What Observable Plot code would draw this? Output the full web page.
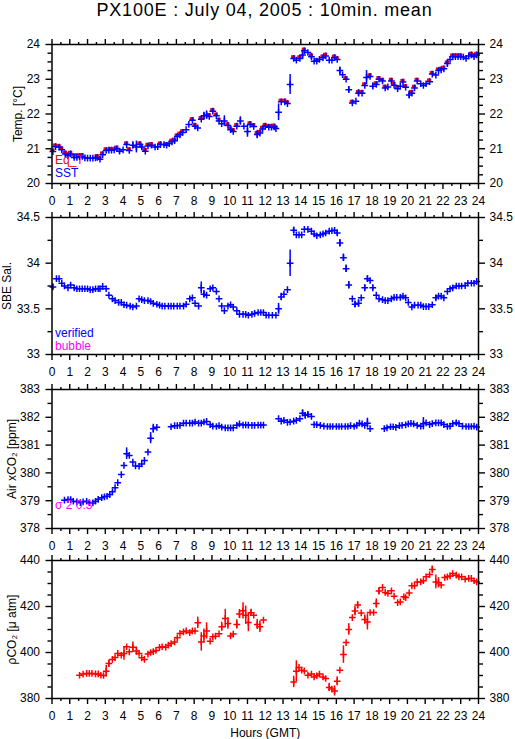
<!DOCTYPE html>
<html><head><meta charset="utf-8">
<script src="https://cdn.jsdelivr.net/npm/d3@7"></script>
<script src="https://cdn.jsdelivr.net/npm/@observablehq/plot@0.6"></script>
<style>
body{margin:0;background:#fff;}
#root{position:relative;width:515px;height:739px;overflow:hidden;font-family:"Liberation Sans",Arial,Helvetica,sans-serif;}
#title{position:absolute;left:0;width:529px;top:-1px;text-align:center;font-size:18px;letter-spacing:0.8px;line-height:22px;color:#000;}
</style></head><body>
<div id="root"><div id="title">PX100E : July 04, 2005 : 10min. mean</div></div>
<script>
// ---------- data ----------
const hourTicks = d3.range(0, 25, 1);
const halfHourTicks = d3.range(0.5, 24, 1);

// Panel 1: temperature
const sstHours = [0.05,0.2,0.4,0.55,0.75,0.9,1.05,1.25,1.4,1.55,1.7,1.85,2.0,2.15,2.3,2.45,2.55,2.7,2.85,3.05,3.2,3.35,3.5,3.65,3.8,4.0,4.2,4.35,4.55,4.75,4.95,5.05,5.25,5.4,5.6,5.8,5.95,6.1,6.3,6.45,6.6,6.75,6.9,7.05,7.2,7.35,7.55,7.7,7.9,8.05,8.2,8.4,8.55,8.7,8.85,9.05,9.25,9.4,9.55,9.7,9.9,10.05,10.2,10.4,10.6,10.8,11.0,11.15,11.35,11.55,11.7,11.85,12.0,12.2,12.35,12.5,12.6,12.75,12.9,13.1,13.25,13.4,13.6,13.75,13.95,14.1,14.2,14.4,14.6,14.75,14.9,15.05,15.25,15.4,15.6,15.75,15.9,16.05,16.2,16.35,16.55,16.7,16.9,17.1,17.25,17.45,17.6,17.7,17.9,18.05,18.25,18.4,18.6,18.75,18.9,19.1,19.25,19.45,19.6,19.75,19.9,20.1,20.25,20.4,20.55,20.75,20.9,21.05,21.25,21.4,21.6,21.75,21.9,22.05,22.25,22.4,22.55,22.7,22.85,23.0,23.15,23.3,23.45,23.6,23.75,23.9];
const sstValues = [20.92,21.06,21.05,20.97,20.85,20.80,20.85,20.75,20.75,20.77,20.78,20.74,20.73,20.73,20.73,20.74,20.75,20.70,20.83,20.95,20.96,20.96,20.97,21.00,20.93,20.97,21.12,20.95,21.10,21.05,21.12,21.05,20.93,21.08,21.10,21.05,21.06,21.12,21.12,21.10,21.15,21.20,21.23,21.35,21.40,21.47,21.55,21.70,21.82,21.65,21.60,21.85,21.95,21.97,21.93,22.08,21.95,21.80,21.72,21.80,21.67,21.55,21.50,21.65,21.80,21.65,21.50,21.70,21.64,21.41,21.45,21.57,21.65,21.62,21.62,21.63,21.58,22.05,22.35,22.35,22.30,22.85,23.60,23.55,23.60,23.70,23.82,23.77,23.65,23.52,23.52,23.57,23.62,23.67,23.55,23.55,23.62,23.57,23.25,23.13,23.00,22.70,22.32,22.37,22.60,22.60,22.82,23.05,23.08,22.80,22.85,23.00,22.95,22.75,22.78,22.95,22.83,22.73,22.80,22.92,22.77,22.55,22.60,22.75,22.95,22.87,22.82,22.87,22.93,23.15,23.12,23.25,23.27,23.30,23.45,23.57,23.65,23.65,23.65,23.65,23.64,23.60,23.67,23.70,23.65,23.70];
const sstErrHours = [1.25,3.8,4.55,4.75,5.05,8.55,8.7,9.7,10.6,11.0,11.55,12.75,13.4,13.6,14.1,14.6,16.2,16.7,17.25,17.7,18.05,20.1,22.25];
const sstErrHalf  = [0.06,0.08,0.10,0.17,0.08,0.10,0.12,0.15,0.12,0.17,0.12,0.24,0.29,0.07,0.10,0.08,0.10,0.09,0.10,0.20,0.09,0.11,0.08];
const eqtHours = [0.05,0.2,0.4,0.55,0.75,0.9,1.05,1.25,1.4,1.55,1.7,2.55,2.7,2.85,3.05,3.35,3.65,4.2,4.35,4.95,5.25,5.4,5.6,6.1,6.45,6.75,6.9,7.05,7.2,7.35,7.9,8.05,8.4,8.85,9.05,9.25,9.4,9.9,10.05,10.2,10.4,11.15,11.35,11.55,11.7,11.85,12.0,12.2,12.35,12.5,12.6,12.9,13.1,13.25,13.6,13.95,14.2,14.6,14.9,15.25,15.4,15.9,16.05,16.55,16.9,17.25,17.45,17.6,17.9,18.25,18.4,18.6,18.75,19.1,19.25,19.45,19.75,19.9,20.25,20.4,20.55,21.25,21.4,21.75,21.9,22.05,22.25,22.55,22.7,22.85,23.0,23.6,23.75,23.9];
const eqtValues = [20.93,21.08,21.06,20.99,20.87,20.82,20.87,20.79,20.80,20.80,20.80,20.77,20.72,20.85,20.97,20.98,21.02,21.14,20.97,21.14,20.95,21.10,21.12,21.14,21.12,21.22,21.25,21.37,21.42,21.49,21.84,21.67,21.87,21.95,22.10,21.97,21.82,21.69,21.57,21.52,21.67,21.72,21.67,21.44,21.47,21.59,21.67,21.64,21.64,21.65,21.60,22.37,22.37,22.32,23.62,23.62,23.84,23.67,23.54,23.64,23.69,23.64,23.59,23.02,22.34,22.62,22.62,22.84,23.10,22.87,23.02,22.97,22.77,22.97,22.85,22.75,22.94,22.79,22.62,22.77,22.97,22.95,23.17,23.27,23.29,23.32,23.47,23.67,23.67,23.67,23.67,23.72,23.67,23.72];

// Panel 2: SBE salinity
const salHours = [0.05,0.25,0.4,0.55,0.7,0.9,1.05,1.25,1.4,1.55,1.7,1.85,2.0,2.15,2.3,2.45,2.6,2.7,2.85,3.05,3.2,3.4,3.55,3.75,3.9,4.05,4.2,4.4,4.55,4.75,4.9,5.05,5.2,5.4,5.55,5.7,5.9,6.05,6.2,6.35,6.55,6.7,6.85,7.05,7.2,7.4,7.55,7.75,7.9,8.05,8.25,8.4,8.55,8.7,8.9,9.05,9.25,9.4,9.55,9.7,9.9,10.05,10.2,10.4,10.55,10.75,10.9,11.05,11.25,11.4,11.6,11.75,11.9,12.05,12.2,12.4,12.6,12.75,12.9,13.05,13.25,13.4,13.6,13.75,13.9,14.05,14.2,14.4,14.6,14.75,14.9,15.1,15.25,15.4,15.6,15.75,15.9,16.05,16.2,16.4,16.55,16.7,16.9,17.05,17.25,17.4,17.6,17.75,17.9,18.05,18.25,18.4,18.6,18.75,18.9,19.1,19.25,19.4,19.6,19.75,19.9,20.05,20.25,20.4,20.6,20.75,20.9,21.05,21.2,21.4,21.6,21.75,21.9,22.05,22.25,22.4,22.55,22.75,22.9,23.05,23.25,23.4,23.6,23.75,23.9];
const salValues = [33.74,33.83,33.83,33.78,33.75,33.73,33.76,33.73,33.72,33.72,33.72,33.72,33.72,33.71,33.71,33.72,33.72,33.72,33.745,33.72,33.65,33.61,33.59,33.57,33.57,33.545,33.54,33.53,33.52,33.53,33.61,33.60,33.59,33.59,33.58,33.56,33.55,33.54,33.53,33.53,33.53,33.53,33.53,33.53,33.53,33.53,33.55,33.61,33.62,33.56,33.53,33.73,33.66,33.65,33.72,33.73,33.69,33.61,33.53,33.48,33.53,33.545,33.52,33.48,33.44,33.44,33.44,33.43,33.44,33.45,33.46,33.46,33.46,33.43,33.43,33.43,33.43,33.50,33.63,33.66,33.71,34.00,34.36,34.31,34.31,34.31,34.37,34.37,34.35,34.32,34.30,34.31,34.32,34.33,34.35,34.355,34.36,34.33,34.22,34.06,33.94,33.76,33.61,33.55,33.56,33.62,33.73,33.83,33.81,33.73,33.65,33.61,33.60,33.59,33.59,33.61,33.625,33.625,33.625,33.64,33.62,33.57,33.52,33.54,33.54,33.54,33.525,33.525,33.525,33.545,33.62,33.64,33.64,33.62,33.69,33.72,33.73,33.75,33.75,33.75,33.755,33.78,33.78,33.78,33.80];
const salErrHours = [0.05,8.4,8.55,12.75,12.9,13.4,13.6,16.05,16.2,16.4,16.55,16.7,17.05,17.25,17.6,17.75,18.05,21.6];
const salErrHalf  = [0.03,0.065,0.04,0.06,0.04,0.145,0.035,0.03,0.04,0.04,0.04,0.04,0.035,0.04,0.035,0.03,0.03,0.03];

// Panel 3: Air xCO2
const airHours = [0.7,0.9,1.05,1.2,1.4,1.6,1.75,1.95,2.1,2.3,2.45,2.6,2.8,2.95,3.1,3.25,3.4,3.55,3.7,3.9,4.05,4.2,4.35,4.55,4.7,4.9,5.05,5.2,5.4,5.55,5.7,5.9,6.7,6.9,7.05,7.2,7.4,7.55,7.75,7.9,8.05,8.25,8.4,8.55,8.7,8.9,9.05,9.25,9.4,9.55,9.75,9.9,10.05,10.2,10.4,10.55,10.75,10.9,11.05,11.25,11.4,11.6,11.75,11.9,12.75,12.9,13.05,13.25,13.4,13.6,13.75,13.95,14.1,14.25,14.4,14.6,14.75,14.9,15.1,15.3,15.5,15.65,15.8,16.0,16.15,16.3,16.5,16.65,16.8,17.0,17.15,17.3,17.45,17.6,17.75,17.9,18.7,18.85,19.05,19.2,19.35,19.55,19.7,19.9,20.05,20.2,20.35,20.55,20.75,20.9,21.05,21.25,21.4,21.6,21.75,21.9,22.05,22.25,22.4,22.55,22.75,22.9,23.1,23.3,23.45,23.6,23.75,23.9];
const airValues = [379.02,379.04,379.04,378.98,378.96,378.93,378.96,378.98,378.93,378.92,378.98,379.05,379.11,379.14,379.16,379.22,379.32,379.47,379.65,379.94,380.27,380.69,380.63,380.39,380.25,380.24,380.32,380.45,380.75,381.25,381.59,381.64,381.66,381.70,381.70,381.71,381.79,381.79,381.79,381.79,381.83,381.79,381.79,381.83,381.85,381.74,381.68,381.67,381.70,381.65,381.62,381.62,381.62,381.62,381.71,381.76,381.72,381.73,381.72,381.71,381.71,381.72,381.72,381.72,381.95,381.86,381.89,381.82,381.83,381.86,381.89,381.95,382.15,382.07,382.10,382.03,381.74,381.74,381.71,381.68,381.67,381.67,381.67,381.67,381.67,381.67,381.67,381.67,381.70,381.67,381.71,381.79,381.76,381.71,381.79,381.59,381.59,381.62,381.66,381.66,381.64,381.70,381.71,381.73,381.76,381.78,381.76,381.71,381.68,381.77,381.80,381.74,381.77,381.80,381.80,381.80,381.74,381.67,381.68,381.77,381.80,381.77,381.68,381.67,381.67,381.67,381.68,381.65];
const airErrHours = [4.2,5.55,5.7,14.1,14.25,14.4,17.75,20.9,22.75];
const airErrHalf  = [0.21,0.20,0.16,0.12,0.10,0.10,0.18,0.22,0.08];

// Panel 4: pCO2
const pco2Hours = [1.55,1.75,1.95,2.1,2.25,2.45,2.6,2.75,2.9,3.05,3.2,3.4,3.55,3.7,3.9,4.05,4.2,4.35,4.55,4.75,4.9,5.05,5.2,5.4,5.55,5.7,5.85,6.05,6.2,6.4,6.55,6.7,6.9,7.05,7.2,7.4,7.55,7.75,7.9,8.05,8.2,8.4,8.55,8.7,8.9,9.05,9.2,9.4,9.55,9.75,9.9,10.05,10.2,10.4,10.55,10.75,10.9,11.05,11.2,11.35,11.55,11.7,11.9,13.6,13.75,13.9,14.05,14.2,14.4,14.6,14.75,14.9,15.05,15.25,15.4,15.6,15.75,15.9,16.05,16.2,16.4,16.55,16.7,16.9,17.05,17.2,17.4,17.6,17.75,17.9,18.1,18.25,18.4,18.6,18.75,18.9,19.1,19.25,19.45,19.6,19.8,19.9,20.1,20.25,20.4,20.55,20.75,20.9,21.05,21.25,21.4,21.6,21.75,21.9,22.1,22.25,22.4,22.55,22.75,22.9,23.05,23.25,23.45,23.6,23.75,23.9];
const pco2Values = [390.1,390.6,390.9,390.9,390.9,390.7,390.7,390.1,390.0,391.9,395.2,397.0,397.8,399.6,398.8,399.6,402.5,400.3,402.3,400.6,399.6,397.7,397.0,399.3,400.0,400.4,400.9,402.2,402.5,402.3,403.2,403.9,404.6,406.4,408.3,409.0,409.4,408.6,409.4,409.4,412.9,404.6,407.2,409.4,404.9,406.8,407.1,408.1,411.2,414.8,412.6,407.2,408.0,412.2,416.7,418.1,416.2,413.0,417.3,416.2,412.2,411.2,414.1,387.2,391.9,393.5,392.3,392.0,390.1,390.6,389.4,389.9,390.6,389.4,388.7,384.8,384.1,383.3,387.5,392.3,399.1,404.3,410.0,415.2,418.0,420.6,417.2,414.3,413.3,417.4,417.4,421.3,426.7,428.3,426.1,425.7,426.8,424.5,421.7,422.0,424.2,423.9,425.9,429.0,429.0,430.7,430.7,431.2,432.9,433.9,436.1,430.7,430.3,429.3,432.6,432.9,433.3,434.3,433.6,432.9,432.9,431.9,432.2,432.2,431.2,430.7];
const pco2ErrHours = [3.05,3.2,4.05,4.55,4.75,8.2,8.4,8.55,8.7,9.55,9.75,9.9,10.4,10.55,10.75,10.9,11.05,11.2,11.55,11.7,13.6,13.75,15.6,15.9,16.05,16.4,16.7,17.05,17.2,17.6,17.75,18.25,18.4,21.4,21.6,21.75];
const pco2ErrHalf  = [2.5,1.5,3.0,2.3,1.8,2.5,4.0,3.0,3.5,2.0,4.0,2.5,2.0,2.0,3.5,4.0,4.0,1.5,2.2,2.5,2.5,4.5,1.8,2.2,2.0,3.8,2.5,2.0,1.5,2.0,3.5,2.0,1.5,1.5,3.0,2.2];

// ---------- drawing ----------
const BLUE = "#0000ff", RED = "#ff0000", MAGENTA = "#ff00ff";
const FONT = "Liberation Sans, Arial, Helvetica, sans-serif";
const root = document.getElementById("root");
const W = 515, ML = 51.5, MR = 37;

function pointsOf(H, V) { return H.map((t, i) => ({t, v: V[i]})); }
function errsOf(H, V, EH, EE) {
  return EH.map((t, i) => { const j = H.indexOf(t); return {t, v: V[j], e: EE[i]}; });
}
function seriesMarks(H, V, EH, EE, color) {
  return [
    Plot.ruleX(errsOf(H, V, EH, EE), {x: "t", y1: d => d.v - d.e, y2: d => d.v + d.e, stroke: color, strokeWidth: 1.5}),
    Plot.dot(pointsOf(H, V), {x: "t", y: "v", symbol: "plus", r: 2.3, stroke: color, strokeWidth: 1.5})
  ];
}

function panel(o) {
  const mt = 20, mb = o.xLabel ? 42 : 30;
  const h = o.frameBottom - o.frameTop;
  const fmt = d => String(d);
  const blank = () => "";
  const marks = [
    ...(o.extra || []),
    ...o.series,
    Plot.frame({stroke: "black", strokeWidth: 1.5}),
    Plot.axisX({anchor: "bottom", ticks: hourTicks, tickSize: 6, tickPadding: 7, tickFormat: fmt, label: null, strokeWidth: 1.4, fontSize: 12}),
    Plot.axisX({anchor: "bottom", ticks: halfHourTicks, tickSize: 3, tickFormat: blank, label: null, strokeWidth: 1.4}),
    Plot.axisX({anchor: "top", ticks: hourTicks, tickSize: 6, tickFormat: blank, label: null, strokeWidth: 1.4}),
    Plot.axisX({anchor: "top", ticks: halfHourTicks, tickSize: 3, tickFormat: blank, label: null, strokeWidth: 1.4}),
    Plot.axisY({anchor: "left", ticks: o.yMajor, tickSize: 6, tickPadding: 6, tickFormat: fmt, label: null, strokeWidth: 1.4, fontSize: 12}),
    Plot.axisY({anchor: "left", ticks: o.yMinor, tickSize: 4, tickFormat: blank, label: null, strokeWidth: 1.4}),
    Plot.axisY({anchor: "right", ticks: o.yMajor, tickSize: 6, tickPadding: 5, tickFormat: fmt, label: null, strokeWidth: 1.4, fontSize: 12}),
    Plot.axisY({anchor: "right", ticks: o.yMinor, tickSize: 4, tickFormat: blank, label: null, strokeWidth: 1.4}),
    Plot.text([o.yLabel], {frameAnchor: "left", rotate: -90, dx: o.labelDx, textAnchor: "middle", lineAnchor: "middle", fontSize: 12, fill: "black"}),
    ...o.legends.map(l => Plot.text([l.text], {frameAnchor: "bottom-left", dx: 3, dy: l.dy, textAnchor: "start", lineAnchor: "bottom", fontSize: 12, fill: l.color}))
  ];
  if (o.xLabel) marks.push(Plot.text([o.xLabel], {frameAnchor: "bottom", dy: 35, lineAnchor: "middle", fontSize: 12, fill: "black"}));
  const svg = Plot.plot({
    width: W, height: mt + h + mb,
    marginLeft: ML, marginRight: MR, marginTop: mt, marginBottom: mb,
    x: {domain: [0, 24]},
    y: {domain: o.yDomain},
    style: {background: "transparent", fontFamily: FONT, fontSize: "12px", color: "black", overflow: "visible"},
    marks
  });
  svg.style.position = "absolute";
  svg.style.left = "0px";
  svg.style.top = (o.frameTop - mt) + "px";
  root.appendChild(svg);
}

panel({
  frameTop: 44, frameBottom: 183, yDomain: [20, 24],
  yMajor: [20, 21, 22, 23, 24], yMinor: d3.range(20.25, 24, 0.25).filter(v => v % 1 !== 0),
  yLabel: "Temp. [°C]", labelDx: -33.5,
  extra: [Plot.ruleY(pointsOf(eqtHours, eqtValues), {y: "v", x1: d => d.t - 0.12, x2: d => d.t + 0.12, dy: -1, stroke: RED, strokeWidth: 3})],
  series: seriesMarks(sstHours, sstValues, sstErrHours, sstErrHalf, BLUE),
  legends: [{text: "Eq_T", color: RED, dy: -20}, {text: "SST", color: BLUE, dy: -6.5}]
});
panel({
  frameTop: 217, frameBottom: 354, yDomain: [33, 34.5],
  yMajor: [33, 33.5, 34, 34.5], yMinor: [33.25, 33.75, 34.25],
  yLabel: "SBE Sal.", labelDx: -44.5,
  series: seriesMarks(salHours, salValues, salErrHours, salErrHalf, BLUE),
  legends: [{text: "verified", color: BLUE, dy: -17.5}, {text: "bubble", color: MAGENTA, dy: -4.7}]
});
panel({
  frameTop: 389, frameBottom: 528, yDomain: [378, 383],
  yMajor: [378, 379, 380, 381, 382, 383], yMinor: [378.5, 379.5, 380.5, 381.5, 382.5],
  yLabel: "Air xCO₂ [ppm]", labelDx: -39.5,
  series: seriesMarks(airHours, airValues, airErrHours, airErrHalf, BLUE),
  legends: [{text: "σ 2 0.3", color: MAGENTA, dy: -20}]
});
panel({
  frameTop: 560, frameBottom: 698, yDomain: [380, 440],
  yMajor: [380, 400, 420, 440], yMinor: [385, 390, 395, 405, 410, 415, 425, 430, 435],
  yLabel: "ρCO₂ [μ atm]", labelDx: -39.5,
  series: seriesMarks(pco2Hours, pco2Values, pco2ErrHours, pco2ErrHalf, RED),
  legends: [],
  xLabel: "Hours (GMT)"
});
</script>
</body></html>
